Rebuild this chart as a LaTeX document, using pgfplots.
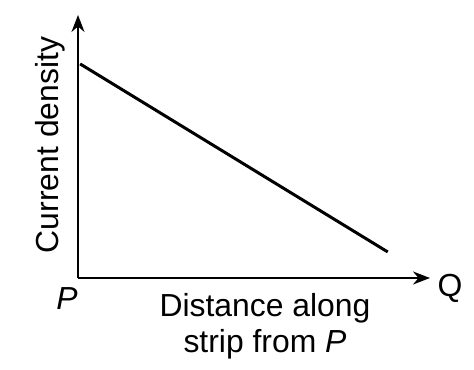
\documentclass[border=0pt]{standalone}
\usepackage{pgfplots}
\pgfplotsset{compat=1.18}
\usetikzlibrary{arrows.meta}
\usepackage{fontspec}
\setmainfont{Liberation Sans}
\begin{document}
\begin{tikzpicture}
\useasboundingbox (0bp,0bp) rectangle (474bp,370bp);
\begin{axis}[
  at={(78bp,92bp)}, anchor=south west,
  scale only axis, width=352bp, height=263bp,
  xmin=0, xmax=10, ymin=0, ymax=10,
  axis lines=left,
  axis line style={line width=2bp},
  every outer x axis line/.append style={-{Stealth[length=17bp,width=13bp]}},
  every outer y axis line/.append style={-{Stealth[length=17bp,width=13bp]}},
  xtick=\empty, ytick=\empty,
  clip=false,
]
\addplot[line width=3bp, black] coordinates {(0.06,8.14) (8.80,0.99)};
\end{axis}
\node[anchor=base, font=\fontsize{32}{38}\selectfont] at (265bp,53bp) {Distance along};
\node[anchor=base, font=\fontsize{32}{38}\selectfont] at (265bp,18bp) {strip from \textit{P}};
\node[anchor=base, font=\fontsize{32}{38}\selectfont] at (67bp,60bp) {\textit{P}};
\node[anchor=base, font=\fontsize{32}{38}\selectfont] at (450bp,73bp) {Q};
\node[anchor=base, rotate=90, font=\fontsize{32}{38}\selectfont] at (58bp,225bp) {Current density};
\end{tikzpicture}
\end{document}
